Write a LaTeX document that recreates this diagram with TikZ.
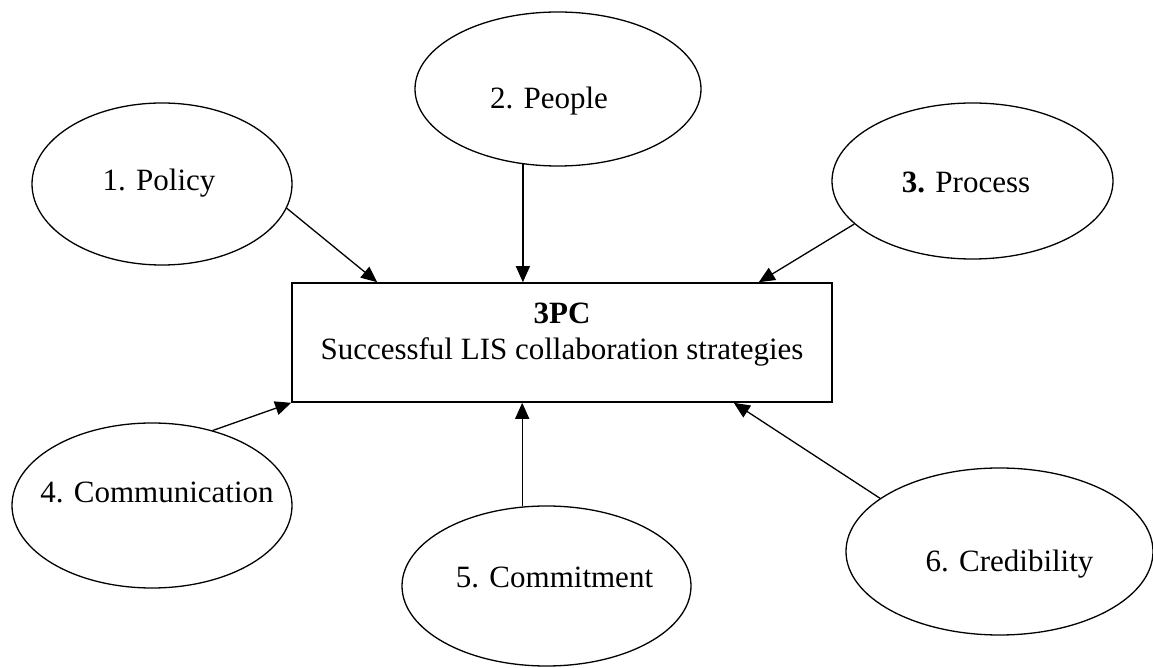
\documentclass[tikz,border=0pt]{standalone}
\usepackage{fontspec}
\setmainfont{Liberation Serif}
\usetikzlibrary{shapes.geometric,arrows.meta,positioning}
\tikzstyle{bubble}  = [ellipse, draw=black, line width=0.65pt, inner sep=0pt]
\tikzstyle{pointer} = [line width=0.65pt, -{Triangle[length=8pt,width=7pt]}]

\begin{document}
\begin{tikzpicture}[x=0.5pt,y=-0.5pt,
    font=\fontsize{15.5}{18.35}\selectfont,
    hub/.style={rectangle, draw=black, line width=0.8pt, minimum width=270pt, minimum height=59.5pt, align=center, text depth=11.35pt},
    bubbletext/.style={text height=0.7em, text depth=0.25em, inner sep=0pt}]

  \useasboundingbox (0,0) rectangle (1153,668);

  % central box
  \node[hub] (hub) at (562,342.5) {\textbf{3PC}\\Successful LIS collaboration strategies};

  % the six strategies
  \node[bubble, minimum width=130pt, minimum height=81pt,
        label={[bubbletext, shift={(-3,2)}]center:1. Policy}] (policy) at (162,184) {};
  \node[bubble, minimum width=143pt, minimum height=77pt,
        label={[bubbletext, shift={(-9,15)}]center:2. People}] (people) at (558,89) {};
  \node[bubble, minimum width=140.5pt, minimum height=78pt,
        label={[bubbletext, shift={(-6.5,7)}]center:\textbf{3.} Process}] (process) at (972.5,181) {};
  \node[bubble, minimum width=140pt, minimum height=82.5pt,
        label={[bubbletext, shift={(5,-7)}]center:4. Communication}] (comm) at (152,505.5) {};
  \node[bubble, minimum width=144.5pt, minimum height=80pt,
        label={[bubbletext, shift={(8,-2.5)}]center:5. Commitment}] (commit) at (546.5,586) {};
  \node[bubble, minimum width=153.5pt, minimum height=83.5pt,
        label={[bubbletext, shift={(10,16)}]center:6. Credibility}] (cred) at (999.5,551.5) {};

  % arrows into the box
  \draw[pointer] (policy.-11) -- ([xshift=43pt]hub.north west);
  \draw[pointer] (people.-115) -- (people.-115 |- hub.north);
  \draw[pointer] (process.-160) -- ([xshift=-37pt]hub.north east);
  \draw[pointer] (comm.51) -- (hub.south west);
  \draw[pointer] (commit.107) -- (commit.107 |- hub.south);
  \draw[pointer] (cred.156) -- ([xshift=-49.5pt]hub.south east);
\end{tikzpicture}
\end{document}
